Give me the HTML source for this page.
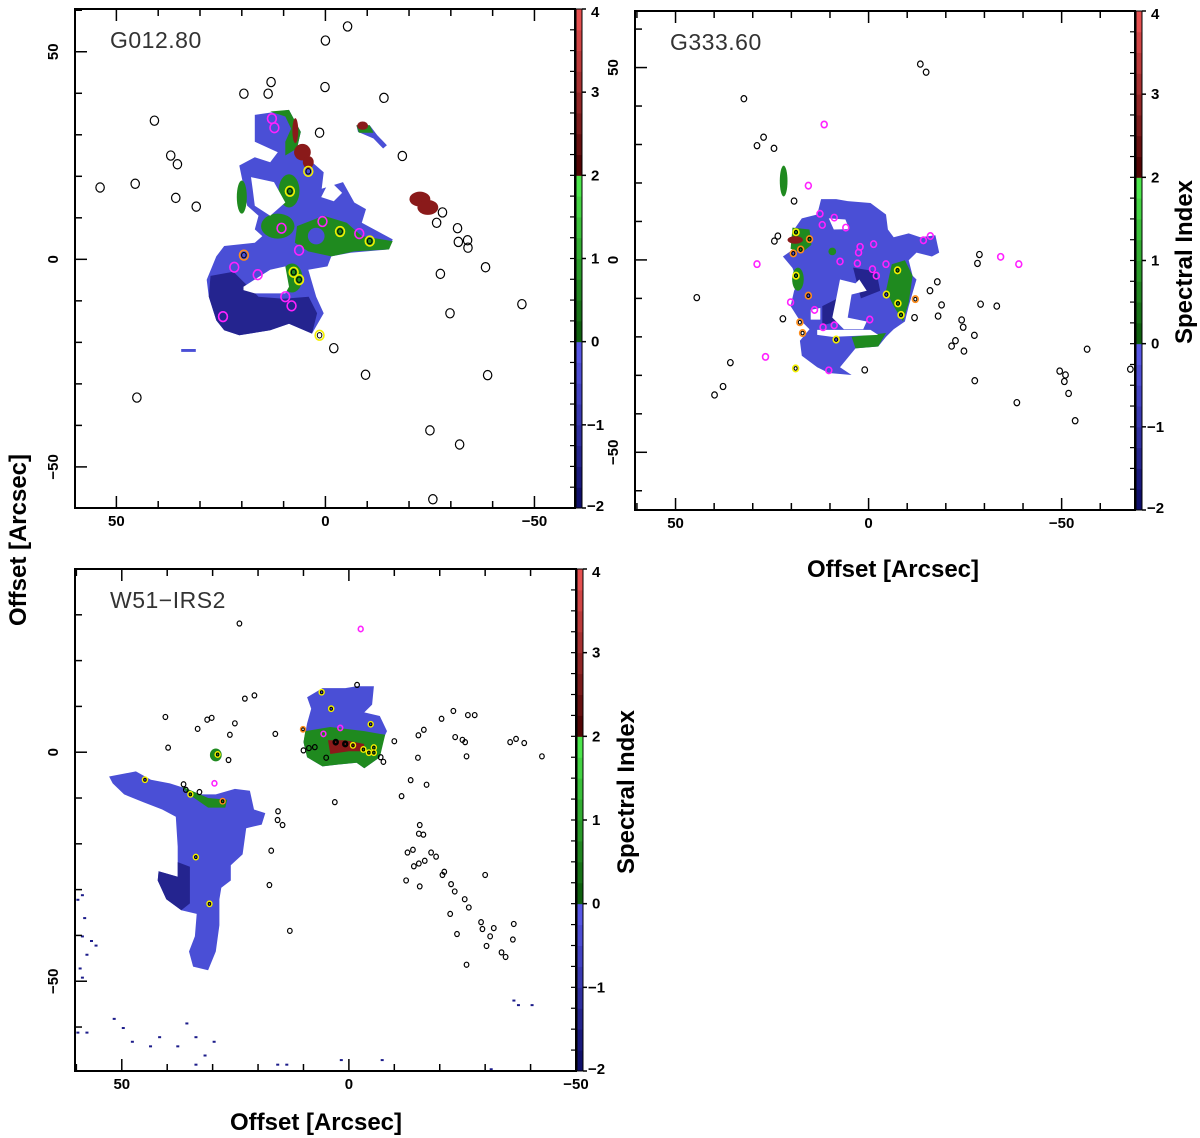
<!DOCTYPE html>
<html><head><meta charset="utf-8"><style>
body{margin:0;background:#fff;}
svg{display:block;font-family:"Liberation Sans",sans-serif;}
</style></head><body>
<svg id="fig" width="1200" height="1138" viewBox="0 0 1200 1138" xmlns="http://www.w3.org/2000/svg"></svg>
<script>
// ---------- data (arcsec offsets) ----------
// Panel 1: G012.80
const p1Main=[[16.9,34.8],[8.7,36],[5.9,30.7],[6.8,26.7],[4.1,24.2],[0.4,21],[0.9,17],[-4.2,18.6],[-6.9,13.7],[-9.7,12.1],[-8.7,8.8],[-16.1,4.8],[-15.2,2.4],[-6,1.6],[-1.4,0.7],[-0.5,-1.7],[4.1,-2.5],[2.2,-9],[0.4,-13],[3.2,-17.9],[8.7,-15.5],[13.2,-17.1],[20.6,-18.3],[24.2,-17.1],[26.1,-14.7],[27.9,-9],[28.4,-4.9],[26.1,0.7],[24.2,3.2],[16.9,4],[15.1,5.6],[16.9,7.2],[16,10.5],[18.7,12.9],[19.6,17.7],[20.6,22.6],[16.9,24.6],[13.2,23.4],[11.4,25.8],[16.9,28.3]];
const p1Navy=[[27.5,-4],[22,-3],[16,-9],[10,-9.5],[4,-9],[2,-13],[3.2,-17.9],[8.7,-15.5],[13.2,-17.1],[20.6,-18.3],[24.2,-17.1],[26.1,-14.7],[27.9,-9]];
const p1Holes=[[[17.8,19.8],[12.3,18.6],[9.6,13.7],[13.2,10.5],[16.9,12.9],[17.4,16.9]],[[19.6,-6.6],[13.2,-2.5],[9.6,-1.7],[8.7,-6.6],[9.6,-8.2],[16.9,-8.2],[19.6,-7.4]],[[-1,19],[-4,16],[-2,14],[1,15]]];
const p1Green=[[[13.2,35.6],[8.7,36],[5.9,30.7],[6.8,26.7],[9.6,25],[9.6,28.3],[8.2,31.5],[9.6,34.4]],[[6.8,8],[0.4,10.5],[-5.1,8.8],[-8.7,5.6],[-16.1,4.4],[-15.2,2.4],[-6.9,1.9],[-1.4,0.7],[4.1,1.9],[7.3,4]],[[-7.4,32.3],[-10.6,32.3],[-11.5,30.5],[-8,30.5]]];
const p1Small=[[[-7.4,32.3],[-10.6,32.3],[-12.4,29.9],[-14.7,27.5],[-13.8,26.7],[-11.5,29.1],[-7.8,30.7]],[[34.5,-21.6],[31,-21.6],[31,-22.3],[34.5,-22.3]]];
const p1GreenEll=[[11.4,8,4,3],[8.7,16.5,2.5,4],[20,15,1.2,4],[8,-4.5,2.5,3.5]];
const p1BlueEll=[[2.2,5.6,2,2]];
const p1RedEll=[[5.5,25.8,2,2],[4.1,23.4,1.3,1.5],[7.2,31,0.7,3],[-22.6,14.5,2.5,1.8],[-24.5,12.5,2.5,1.8],[-8.9,32.2,1.3,1]];
const p1SrcX=[-5.3,0,13,19.5,13.7,0.1,-14,40.9,1.4,37,35.4,-18.4,53.9,45.5,35.8,30.9,-28,-26.6,-31.6,-31.8,-34,-34.1,-38.3,-27.5,-47,-29.8,-2,-9.6,-38.8,45.1,-25,-32.1,-25.7];
const p1SrcY=[56.1,52.7,42.7,39.9,39.9,41.5,38.9,33.4,30.5,25,22.9,24.9,17.3,18.2,14.8,12.7,11.3,8.8,7.5,4.2,4.6,2.8,-1.9,-3.5,-10.8,-13,-21.4,-27.8,-27.9,-33.3,-41.2,-44.6,-57.8];
const p1ColX=[12.8,12.2,4.1,8.5,0.7,-3.5,-8.1,-10.6,10.5,6.3,19.5,21.8,16.2,7.6,6.3,9.6,8.1,24.5,1.4];
const p1ColY=[33.9,31.7,21.2,16.4,9.1,6.7,6.2,4.4,7.5,2.2,1,-1.9,-3.7,-3.1,-4.9,-9,-11.2,-13.8,-18.3];
const p1ColT=['m','m','y','y','m','y','m','y','m','m','o','m','m','y','y','m','m','m','y'];
// Panel 2: G333.60
const p2Main=[[19.3,7.9],[17.3,10.8],[13.3,11.8],[12.3,15.8],[8.4,15.8],[5.4,15.3],[-0.5,14.8],[-2.5,13.3],[-4.5,11.8],[-5,7.9],[-6.5,5.9],[-10.4,6.9],[-13.4,5.9],[-17.3,6.4],[-18.3,1.9],[-16.4,0.9],[-12.4,1.9],[-10.4,-0.1],[-11.4,-4.1],[-12.4,-5.1],[-10.4,-12],[-9.4,-16],[-6.5,-18],[-4.5,-20],[-2.5,-22.5],[3.4,-23],[7.4,-27.9],[4.4,-29.9],[10.3,-29.4],[13.3,-27.9],[17.3,-24.9],[17.8,-21],[15.3,-18],[18.3,-15],[20.2,-12],[19.3,-8],[18.3,-6.1],[19.7,-2.1],[22.2,0.9],[19.3,2.9]];
const p2Holes=[[[7.4,-5.1],[3.4,-6.1],[2.4,-5.1],[0.5,-8],[4.4,-9],[5.4,-15],[0.5,-16],[1.4,-18],[6.4,-18],[9.4,-15],[8.4,-10.1]],[[13.3,-18.2],[-0.5,-18.2],[-2.5,-19.5],[9.4,-20],[13.3,-19.5]],[[10.3,10.8],[6,10.5],[5,8],[9,7.9]],[[15,-13],[12.5,-12.5],[12.5,-15.5],[15,-15.5]]];
const p2Navy=[[[12,-12],[8,-10],[8,-16],[12,-17]],[[4,-2],[-2,-3],[-3,-8],[2,-10]]];
const p2Green=[[[19.7,8.4],[15.3,7.9],[14.8,3.9],[17.3,1.9],[20.2,2.9]],[[-6,-1.1],[-9.4,-0.1],[-11.4,-4.1],[-10.4,-11.1],[-8.9,-16],[-6.5,-12],[-4.5,-8]],[[4.4,-20],[-4.5,-19],[-2.5,-22.5],[3.4,-23]]];
const p2GreenEll=[[22,20.5,1,4],[18.3,-5,1.5,3],[9.4,2.2,1,1]];
const p2RedEll=[[19,5.2,2,1]];
const p2SrcX=[-13.4,-14.9,32.3,27.2,28.9,24.5,19.3,24.4,23.5,-28.7,-28.2,44.5,-17.8,-15.9,-18.9,-29,-33.2,-18,-11.9,22.2,-24.1,-24.5,-27.4,-22.5,-21.5,-24.7,35.8,1,37.7,39.9,-27.5,-56.6,-49.5,-51,-50.7,-51.8,-38.4,-53.5,-67.8];
const p2SrcY=[50.9,48.8,41.9,31.9,29.7,29,15.3,4.9,6.2,1.4,-0.9,-9.8,-5.7,-8,-11.7,-11.5,-12,-14.6,-15,-15.3,-15.6,-17.5,-19.6,-21,-22.4,-23.7,-26.7,-28.6,-32.9,-35.1,-31.4,-23.2,-28.9,-29.9,-31.6,-34.7,-37.1,-41.8,-28.4];
const p2ColX=[11.5,15.6,28.9,-34.2,-38.9,26.7,12.6,12,8.9,5.9,2.2,2.6,2.9,7.4,-1.3,-1,-2,-4.5,-14.2,-16,-0.3,14,11.8,8.9,10.3,20.2,18.8,15.3,17.6,19.5,15.6,-7.5,-4.6,-7.6,-8.4,8.4,18.9,17.8,17.1,-12.1,18.8];
const p2ColY=[35.2,19.3,-1.1,0.8,-1.1,-25.2,12,9.1,11,8.4,3.4,1.9,-0.9,-0.4,4.1,-2.4,-4.1,-1.1,5.1,6.2,-15.5,-13,-17.5,-17,-28.7,-11,7.2,5.4,2.7,1.7,-9.3,-2.7,-9,-11.3,-14.3,-20.7,-28.2,-16.2,-19,-10.2,-4.1];
const p2ColT=['m','m','m','m','m','m','m','m','m','m','m','m','m','m','m','m','m','m','m','m','m','m','m','m','m','m','y','o','o','o','o','y','y','y','y','y','y','o','o','o','y'];
// Panel 3: W51-IRS2
const p3Main=[[52.8,-5.3],[46.9,-4.2],[43.6,-6],[39.4,-6.8],[36.9,-7.6],[32.7,-9.2],[29.3,-9.2],[25.1,-8],[21.8,-8.4],[20.9,-12.5],[18.4,-13.3],[19.2,-15.8],[22.6,-16.6],[23.4,-22.3],[26,-24.7],[26,-28],[28.1,-29.6],[28.5,-32.1],[28.5,-37.8],[29.3,-43.5],[31,-47.6],[34.3,-46.8],[35.2,-43.5],[33.9,-40.2],[33.5,-35.3],[36.9,-34.5],[40.2,-32.1],[42.1,-28],[41.9,-26],[37.7,-27.2],[37.7,-20.6],[38.1,-14.1],[41.1,-12.5],[45.3,-10.9],[49.5,-9.2],[52,-6.8]];
const p3Navy=[[42.1,-28],[41.9,-26],[37.7,-27.2],[37.7,-24],[35,-25],[35,-33],[36.9,-34.5],[40.2,-32.1]];
const p3Green=[[[36.9,-7.4],[31,-10],[26.8,-10.4],[27.2,-12.1],[31,-12.1],[35.2,-9.2]]];
const p3Upper=[[9.2,12],[5.8,14],[0.8,14],[-1.7,14.4],[-5.5,14.4],[-5.1,10.4],[-3.4,8.7],[-6.8,7.9],[-8.4,4.6],[-7.6,3],[-6.8,-1.1],[-3.4,-3.5],[-1.7,-2.3],[2.5,-2.7],[5.8,-3.1],[9.2,-1.1],[10,2.2],[9.2,6.3],[8.3,9.5]];
const p3UpperGreen=[[9.6,4.6],[4.1,5.5],[-3.4,4.6],[-8,3.8],[-6.8,-1.1],[-3.4,-3.5],[-1.7,-2.3],[2.5,-2.7],[5.8,-3.1],[9.2,-1.1],[10,2.2]];
const p3Red=[[4.6,2.6],[0.8,2.6],[-3.4,1.8],[-3,0.2],[0,0.2],[4.1,-0.4]];
const p3Specks=[[59,-31],[60,-32],[58.5,-36],[59,-40],[57,-41],[58,-44],[59.5,-47],[59,-49],[56,-42],[52,-58],[50,-60],[48,-63],[44,-64],[42,-62],[36,-59],[38,-64],[34,-62],[32,-66],[30,-63],[34,-68],[58,-61],[60,-61],[16,-68],[14,-68],[-7,-67],[-36,-54],[-37,-55],[-40,-55],[-31,-69],[2,-67]];
const p3SrcX=[24.1,40.4,39.8,33.3,31.2,30.2,25.1,26.2,22.9,20.8,16.2,26.5,36.4,35.9,32.9,15.6,15.7,14.6,17.1,17.5,13,-1.8,3.1,10,8.8,7.5,5,-7,-7.6,-10,-15.3,-16.5,-15.2,-20.4,-23,-23.4,-25,-25.6,-25.9,-26.2,-27.7,-35.5,-36.8,-38.6,-42.5,-13.6,-17.1,-11.6,-15.6,-15.4,-16.4,-12.9,-14.1,-15.4,-14.3,-16.7,-18.1,-19.2,-20.6,-21,-12.6,-15.6,-30,-22.5,-23.3,-25.5,-26.4,-22.3,-23.8,-25.9,-29.1,-29.4,-31.9,-31.1,-30.3,-33.6,-34.5,-36.3,-36.1];
const p3SrcY=[28.1,7.7,1,5.1,7.1,7.5,6.3,3.8,11.7,12.4,4,-1.7,-7,-8.2,-8.7,-12.9,-14.8,-15.9,-21.5,-29,-39,14.7,-10.9,0.4,0.9,1.1,-1.2,-1.1,-2.1,2.4,3.7,4.9,-1.2,7.3,9,3.3,2.7,2.2,-0.9,8.1,8.1,2.2,2.9,2,-0.9,-6.1,-7.1,-9.6,-15.9,-17.8,-18,-21.9,-21.3,-24.3,-24.9,-23.7,-21.9,-22.8,-26.8,-26.1,-28,-29.3,-26.8,-28.8,-30.4,-32.1,-33.9,-35.3,-39.7,-46.4,-37.1,-38.6,-38.4,-40.2,-42.3,-43.7,-44.7,-37.5,-40.9];
const p3ColX=[-2.6,29.6,6,3.9,10.1,5.6,1.9,-4.8,2.9,0.8,-0.9,-3.2,-4.4,-5.5,-5.5,44.9,34.9,27.8,33.7,30.7,28.9];
const p3ColY=[26.9,-6.8,13.1,9.5,5,4,5.3,6.1,2.2,1.8,1.5,0.6,-0.1,1,-0.1,-6,-9.2,-10.7,-22.9,-33.1,-0.5];
const p3ColT=['m','m','y','y','o','m','m','y','k','k','y','y','y','y','y','y','y','o','y','y','y'];
// colorbar ticks
const cbLabels=['4','3','2','1','0','\u22121','\u22122'];
const cbValues=[4,3,2,1,0,-1,-2];

// ---------- drawing ----------
const NS='http://www.w3.org/2000/svg';
const svg=document.getElementById('fig');
function mk(tag,attrs,parent){const e=document.createElementNS(NS,tag);for(const k in attrs)e.setAttribute(k,attrs[k]);(parent||svg).appendChild(e);return e;}
function cmap(v){
  let a,b,t;
  if(v<0){a=[10,10,96];b=[92,92,238];t=(v+2)/2;}
  else if(v<2){a=[10,85,10];b=[80,240,80];t=v/2;}
  else{a=[70,0,0];b=[240,85,85];t=(v-2)/2;}
  return 'rgb('+a.map((c,i)=>Math.round(c+(b[i]-c)*t)).join(',')+')';
}
function panel(cfg){
  const g=mk('g',{});
  
  
  const sx=v=>cfg.x0+(cfg.xmax-v)/(cfg.xmax-cfg.xmin)*(cfg.x1-cfg.x0);
  const sy=v=>cfg.y0+(cfg.ymax-v)/(cfg.ymax-cfg.ymin)*(cfg.y1-cfg.y0);
  const cp=mk('clipPath',{id:'c'+cfg.id},g);
  mk('rect',{x:cfg.x0,y:cfg.y0,width:cfg.x1-cfg.x0,height:cfg.y1-cfg.y0},cp);
  const map=mk('g',{'clip-path':'url(#c'+cfg.id+')'},g);
  
  
  const poly=(pts,fill,name)=>{const p=mk('path',{d:'M'+pts.map(q=>sx(q[0]).toFixed(1)+','+sy(q[1]).toFixed(1)).join('L')+'Z',fill:fill},map);
    
    };
  const ell=(e,fill,name)=>{const el=mk('ellipse',{cx:sx(e[0]),cy:sy(e[1]),rx:Math.abs(sx(e[0]+e[2])-sx(e[0])),ry:Math.abs(sy(e[1]+e[3])-sy(e[1])),fill:fill},map);
    
    };
  (cfg.mains||[]).forEach(m=>poly(m,'#4a4fd6','emission-region'));
  (cfg.navy||[]).forEach(m=>poly(m,'#24248f','steep-index-region'));
  (cfg.greens||[]).forEach(m=>poly(m,'#1f8a1f','flat-index-region'));
  (cfg.greenEll||[]).forEach(e=>ell(e,'#1f8a1f','flat-index-patch'));
  (cfg.blueEll||[]).forEach(e=>ell(e,'#4a4fd6','emission-patch'));
  (cfg.reds||[]).forEach(m=>poly(m,'#8a1a1a','rising-index-region'));
  (cfg.redEll||[]).forEach(e=>ell(e,'#8a1a1a','rising-index-patch'));
  (cfg.holes||[]).forEach(m=>poly(m,'#fff','blank-region'));
  (cfg.specks||[]).forEach(s=>{const r=mk('rect',{x:sx(s[0]),y:sy(s[1]),width:3,height:2,fill:'#1c1c8a'},map);
    
    });
  cfg.srcX.forEach((x,i)=>{const e=mk('ellipse',{cx:sx(x),cy:sy(cfg.srcY[i]),rx:cfg.r,ry:cfg.r*1.1,fill:'none',stroke:'#000','stroke-width':1.2},map);
    
    });
  const colMap={m:'#ff22ff',y:'#f4f000',o:'#ff8c1a',k:'#000'};
  cfg.colX.forEach((x,i)=>{const t=cfg.colT[i];
    const e=mk('ellipse',{cx:sx(x),cy:sy(cfg.colY[i]),rx:cfg.r*1.05,ry:cfg.r*1.15,fill:'none',stroke:colMap[t],'stroke-width':1.6},map);
    
    
    if(t!=='m'){const e2=mk('ellipse',{cx:sx(x),cy:sy(cfg.colY[i]),rx:cfg.r*0.55,ry:cfg.r*0.65,fill:'none',stroke:'#000','stroke-width':1},map);
      
      }});
  const fr=mk('rect',{x:cfg.x0,y:cfg.y0,width:cfg.x1-cfg.x0,height:cfg.y1-cfg.y0,fill:'none',stroke:'#000','stroke-width':2},g);
  
  
  for(let v=Math.ceil(cfg.xmin/10)*10;v<=cfg.xmax;v+=10){const X=sx(v),L=(v%50===0)?12:7;
    mk('line',{x1:X,x2:X,y1:cfg.y1,y2:cfg.y1-L,stroke:'#000','stroke-width':1.5},g);
    mk('line',{x1:X,x2:X,y1:cfg.y0,y2:cfg.y0+L,stroke:'#000','stroke-width':1.5},g);
    if(v%50===0){const t=mk('text',{x:X,y:cfg.y1+18,'text-anchor':'middle','font-size':15,'font-weight':'bold'},g);t.textContent=v<0?'\u2212'+(-v):v;
      
      }}
  for(let v=Math.ceil(cfg.ymin/10)*10;v<=cfg.ymax;v+=10){const Y=sy(v),L=(v%50===0)?12:7;
    mk('line',{x1:cfg.x0,x2:cfg.x0+L,y1:Y,y2:Y,stroke:'#000','stroke-width':1.5},g);
    if(v%50===0){const t=mk('text',{x:cfg.x0-17,y:Y,'text-anchor':'middle','font-size':15,'font-weight':'bold',transform:'rotate(-90 '+(cfg.x0-17)+' '+Y+')'},g);t.textContent=v<0?'\u2212'+(-v):v;
      
      }}
  const cx=cfg.x1+1,cw=6,H=cfg.y1-cfg.y0;
  const cb=mk('g',{},g);
  
  
  for(let k=0;k<24;k++){const v0=-2+k*0.25;const yb=cfg.y1-(k+1)/24*H;
    mk('rect',{x:cx,y:yb,width:cw,height:H/24+0.5,fill:cmap(v0+0.125)},cb);
    mk('line',{x1:cx-6,x2:cx,y1:yb,y2:yb,stroke:'#000','stroke-width':1.2},cb);}
  mk('rect',{x:cx,y:cfg.y0,width:cw,height:H,fill:'none',stroke:'#000','stroke-width':1},cb);
  cbValues.forEach((v,i)=>{const Y=cfg.y1-(v+2)/6*H;
    mk('line',{x1:cx+cw,x2:cx+cw+4,y1:Y,y2:Y,stroke:'#000','stroke-width':1.5},cb);
    const t=mk('text',{x:cx+cw+(v<0?5:9),y:Y+5+(v===4?3:0)+(v===-2?-2:0),'font-size':15,'font-weight':'bold'},cb);t.textContent=cbLabels[i];
    
    });
  const tt=mk('text',{x:cfg.x0+35,y:cfg.y0+39,'font-size':23,fill:'#333','letter-spacing':'0.5'},g);tt.textContent=cfg.title;
  
  
}
panel({id:1,name:'panel-g012-80',title:'G012.80',x0:75,x1:575,y0:9,y1:508,xmin:-59.7,xmax:59.9,ymin:-59.9,ymax:60.3,r:4.2,
  mains:[p1Main].concat(p1Small),navy:[p1Navy],greens:p1Green,greenEll:p1GreenEll,blueEll:p1BlueEll,redEll:p1RedEll,holes:p1Holes,
  srcX:p1SrcX,srcY:p1SrcY,colX:p1ColX,colY:p1ColY,colT:p1ColT});
panel({id:2,name:'panel-g333-60',title:'G333.60',x0:635,x1:1135,y0:11,y1:510,xmin:-69,xmax:60.5,ymin:-65,ymax:64.7,r:2.8,
  mains:[p2Main],navy:p2Navy,greens:p2Green,greenEll:p2GreenEll,redEll:p2RedEll,holes:p2Holes,
  srcX:p2SrcX,srcY:p2SrcY,colX:p2ColX,colY:p2ColY,colT:p2ColT});
panel({id:3,name:'panel-w51-irs2',title:'W51\u2212IRS2',x0:75,x1:576,y0:569,y1:1071,xmin:-50,xmax:60.3,ymin:-69.6,ymax:40,r:2.3,
  mains:[p3Main,p3Upper],navy:[p3Navy],greens:p3Green.concat([p3UpperGreen]),reds:[p3Red],greenEll:[[29.3,-0.6,1.3,1.4]],
  specks:p3Specks,srcX:p3SrcX,srcY:p3SrcY,colX:p3ColX,colY:p3ColY,colT:p3ColT});
function title(txt,x,y,rot,name){const t=mk('text',{x:x,y:y,'text-anchor':'middle','font-size':24,'font-weight':'bold'});
  if(rot)t.setAttribute('transform','rotate(-90 '+x+' '+y+')');t.textContent=txt;
  
  }
title('Offset [Arcsec]',26,540,true,'y-axis-title');
title('Offset [Arcsec]',893,577,false,'x-axis-title-top');
title('Offset [Arcsec]',316,1130,false,'x-axis-title-bottom');
title('Spectral Index',1192,262,true,'colorbar-title-top');
title('Spectral Index',634,792,true,'colorbar-title-bottom');
</script>
</body></html>
